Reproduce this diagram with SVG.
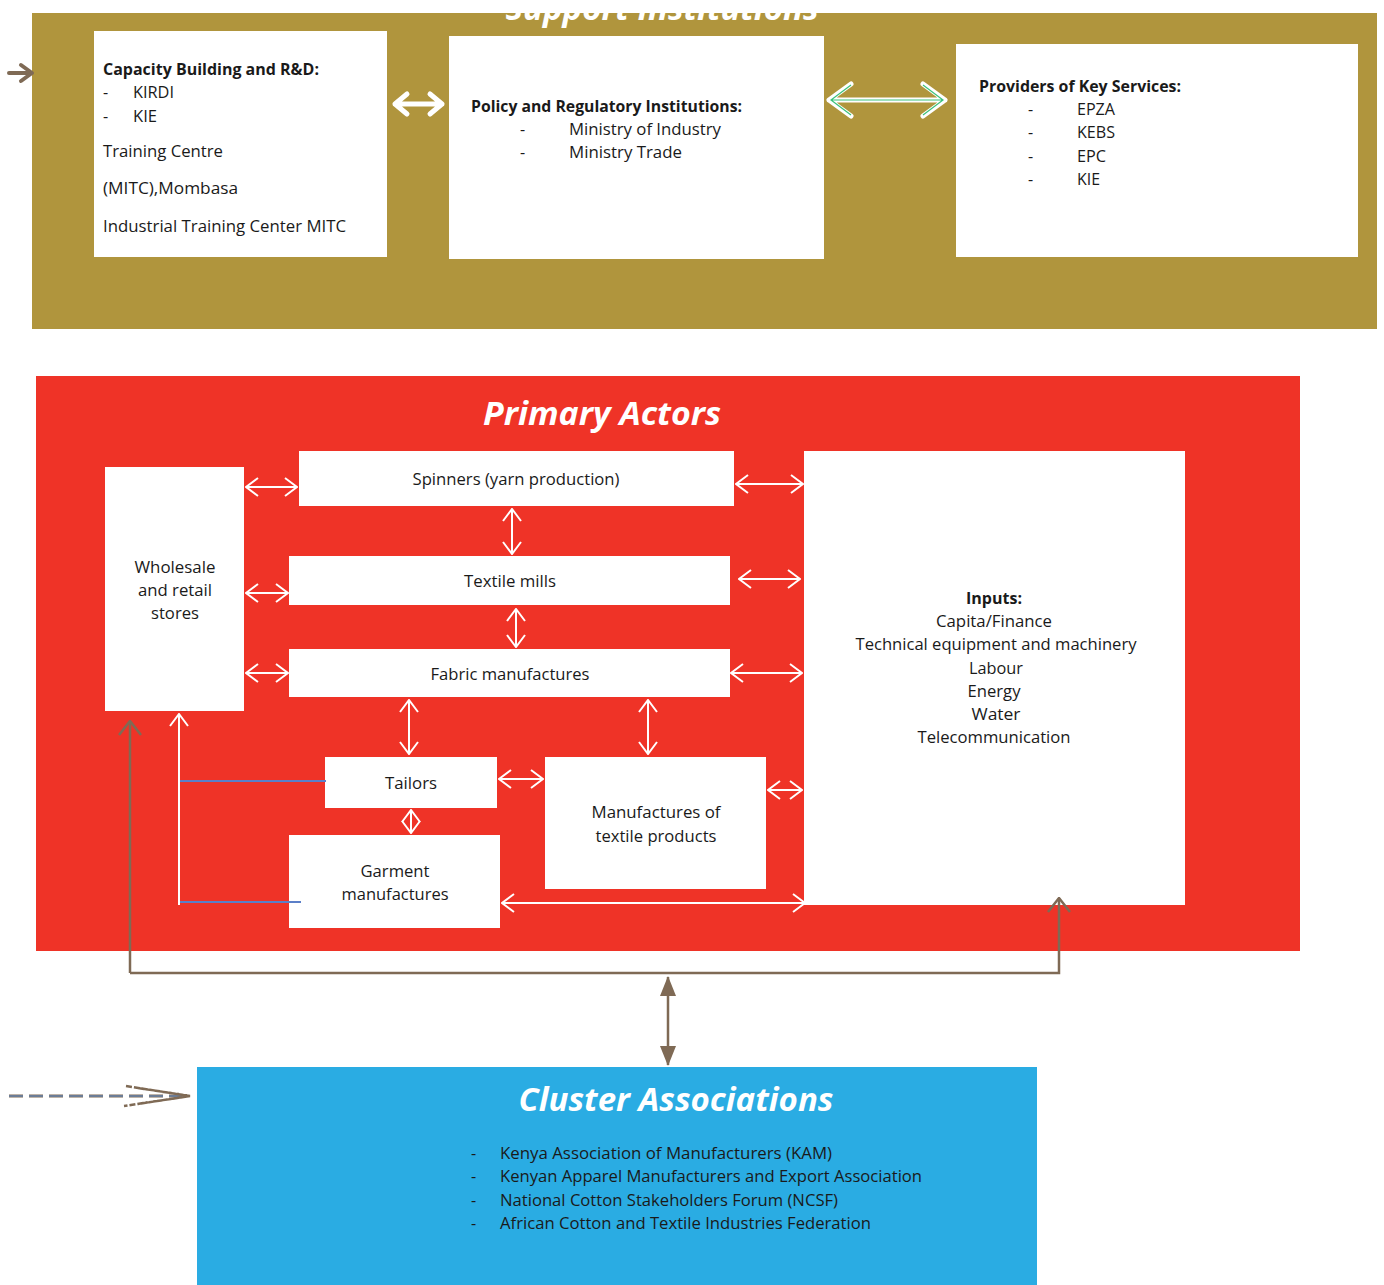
<svg xmlns="http://www.w3.org/2000/svg" width="1384" height="1285" viewBox="0 0 1384 1285">
  <defs>
    <style>
      text { font-family: "Open Sans", "Liberation Sans", sans-serif; fill: #1a1a1a; font-size: 16px; }
      .b { font-weight: bold; }
      .c { text-anchor: middle; }
      .title { font-family: "Open Sans", "Liberation Sans", sans-serif; font-weight: bold; font-style: italic; fill: #ffffff; font-size: 32px; text-anchor: middle; }
      .box { fill: #ffffff; }
      .wa { stroke: #ffffff; stroke-width: 2; fill: none; }
      .brown { stroke: #7f6a55; stroke-width: 2.5; fill: none; }
      .blue { stroke: #5b7fc8; stroke-width: 2; fill: none; }
    </style>
    <marker id="wh" viewBox="0 0 14 20" refX="13" refY="10" markerWidth="14" markerHeight="20" markerUnits="userSpaceOnUse" orient="auto-start-reverse">
      <path d="M1,1 L13,10 L1,19" fill="none" stroke="#ffffff" stroke-width="2"/>
    </marker>
    <marker id="bh" viewBox="0 0 16 24" refX="15" refY="12" markerWidth="16" markerHeight="24" markerUnits="userSpaceOnUse" orient="auto-start-reverse">
      <path d="M1,1 L15,12 L1,23" fill="none" stroke="#7f6a55" stroke-width="2.5"/>
    </marker>
    <marker id="bt" viewBox="0 0 20 16" refX="19" refY="8" markerWidth="20" markerHeight="16" markerUnits="userSpaceOnUse" orient="auto-start-reverse">
      <path d="M0,0 L20,8 L0,16 Z" fill="#7f6a55"/>
    </marker>
  </defs>

  <!-- Support institutions band -->
  <rect x="32" y="13" width="1345" height="316" fill="#b0953d"/>
  <text class="title" x="662" y="20" textLength="313" lengthAdjust="spacingAndGlyphs">Support Institutions</text>

  <g id="capacity-building">
    <rect class="box" x="94" y="31" width="293" height="226"/>
    <text class="b" x="103" y="75" textLength="216" lengthAdjust="spacingAndGlyphs">Capacity Building and R&amp;D:</text>
    <text x="103" y="98">-</text>
    <text x="133" y="98" textLength="41" lengthAdjust="spacingAndGlyphs">KIRDI</text>
    <text x="103" y="122">-</text>
    <text x="133" y="122" textLength="24" lengthAdjust="spacingAndGlyphs">KIE</text>
    <text x="103" y="157" textLength="120" lengthAdjust="spacingAndGlyphs">Training Centre</text>
    <text x="103" y="194" textLength="135" lengthAdjust="spacingAndGlyphs">(MITC),Mombasa</text>
    <text x="103" y="232" textLength="243" lengthAdjust="spacingAndGlyphs">Industrial Training Center MITC</text>
  </g>

  <g id="policy-regulatory">
    <rect class="box" x="449" y="36" width="375" height="223"/>
    <text class="b" x="471" y="112" textLength="271" lengthAdjust="spacingAndGlyphs">Policy and Regulatory Institutions:</text>
    <text x="520" y="135">-</text>
    <text x="569" y="135" textLength="152" lengthAdjust="spacingAndGlyphs">Ministry of Industry</text>
    <text x="520" y="158">-</text>
    <text x="569" y="158" textLength="113" lengthAdjust="spacingAndGlyphs">Ministry Trade</text>
  </g>

  <g id="key-services">
    <rect class="box" x="956" y="44" width="402" height="213"/>
    <text class="b" x="979" y="92" textLength="202" lengthAdjust="spacingAndGlyphs">Providers of Key Services:</text>
    <text x="1028" y="115">-</text>
    <text x="1077" y="115" textLength="38" lengthAdjust="spacingAndGlyphs">EPZA</text>
    <text x="1028" y="138">-</text>
    <text x="1077" y="138" textLength="38" lengthAdjust="spacingAndGlyphs">KEBS</text>
    <text x="1028" y="162">-</text>
    <text x="1077" y="162" textLength="29" lengthAdjust="spacingAndGlyphs">EPC</text>
    <text x="1028" y="185">-</text>
    <text x="1077" y="185" textLength="23" lengthAdjust="spacingAndGlyphs">KIE</text>
  </g>

  <!-- Primary actors panel -->
  <rect x="36" y="376" width="1264" height="575" fill="#ef3327"/>
  <text class="title" x="602" y="425" textLength="238" lengthAdjust="spacingAndGlyphs">Primary Actors</text>

  <g id="wholesale">
    <rect class="box" x="105" y="467" width="139" height="244"/>
    <text class="c" x="175" y="573" textLength="81" lengthAdjust="spacingAndGlyphs">Wholesale</text>
    <text class="c" x="175" y="596" textLength="74" lengthAdjust="spacingAndGlyphs">and retail</text>
    <text class="c" x="175" y="619" textLength="48" lengthAdjust="spacingAndGlyphs">stores</text>
  </g>

  <g id="spinners">
    <rect class="box" x="299" y="451" width="435" height="55"/>
    <text class="c" x="516" y="485" textLength="207" lengthAdjust="spacingAndGlyphs">Spinners (yarn production)</text>
  </g>

  <g id="textile-mills">
    <rect class="box" x="289" y="556" width="441" height="49"/>
    <text class="c" x="510" y="587" textLength="92" lengthAdjust="spacingAndGlyphs">Textile mills</text>
  </g>

  <g id="fabric">
    <rect class="box" x="289" y="649" width="441" height="48"/>
    <text class="c" x="510" y="680" textLength="159" lengthAdjust="spacingAndGlyphs">Fabric manufactures</text>
  </g>

  <g id="tailors">
    <rect class="box" x="325" y="757" width="172" height="51"/>
    <text class="c" x="411" y="789" textLength="52" lengthAdjust="spacingAndGlyphs">Tailors</text>
  </g>

  <g id="garment">
    <rect class="box" x="289" y="835" width="211" height="93"/>
    <text class="c" x="395" y="877" textLength="69" lengthAdjust="spacingAndGlyphs">Garment</text>
    <text class="c" x="395" y="900" textLength="107" lengthAdjust="spacingAndGlyphs">manufactures</text>
  </g>

  <g id="textile-products">
    <rect class="box" x="545" y="757" width="221" height="132"/>
    <text class="c" x="656" y="818" textLength="129" lengthAdjust="spacingAndGlyphs">Manufactures of</text>
    <text class="c" x="656" y="842" textLength="121" lengthAdjust="spacingAndGlyphs">textile products</text>
  </g>

  <g id="inputs">
    <rect class="box" x="804" y="451" width="381" height="454"/>
    <text class="c b" x="994" y="604" textLength="56" lengthAdjust="spacingAndGlyphs">Inputs:</text>
    <text class="c" x="994" y="627" textLength="116" lengthAdjust="spacingAndGlyphs">Capita/Finance</text>
    <text class="c" x="996" y="650" textLength="281" lengthAdjust="spacingAndGlyphs">Technical equipment and machinery</text>
    <text class="c" x="996" y="674" textLength="54" lengthAdjust="spacingAndGlyphs">Labour</text>
    <text class="c" x="994" y="697" textLength="53" lengthAdjust="spacingAndGlyphs">Energy</text>
    <text class="c" x="996" y="720" textLength="49" lengthAdjust="spacingAndGlyphs">Water</text>
    <text class="c" x="994" y="743" textLength="153" lengthAdjust="spacingAndGlyphs">Telecommunication</text>
  </g>

  <!-- Cluster associations panel -->
  <g id="cluster-associations">
    <rect x="197" y="1067" width="840" height="218" fill="#2aace3"/>
    <text class="title" x="676" y="1111" textLength="315" lengthAdjust="spacingAndGlyphs">Cluster Associations</text>
    <text x="471" y="1159">-</text>
    <text x="500" y="1159" textLength="332" lengthAdjust="spacingAndGlyphs">Kenya Association of Manufacturers (KAM)</text>
    <text x="471" y="1182">-</text>
    <text x="500" y="1182" textLength="422" lengthAdjust="spacingAndGlyphs">Kenyan Apparel Manufacturers and Export Association</text>
    <text x="471" y="1206">-</text>
    <text x="500" y="1206" textLength="338" lengthAdjust="spacingAndGlyphs">National Cotton Stakeholders Forum (NCSF)</text>
    <text x="471" y="1229">-</text>
    <text x="500" y="1229" textLength="371" lengthAdjust="spacingAndGlyphs">African Cotton and Textile Industries Federation</text>
  </g>

  <g id="connectors">
    <!-- top band links -->
    <g stroke="#ffffff" stroke-width="5" stroke-linecap="round" stroke-linejoin="round" fill="none">
      <path d="M395,104 H442 M407,94 L395,104 L407,114 M430,94 L442,104 L430,114"/>
      <path d="M829,100 H945 M851,84 L829,100 L851,116 M923,84 L945,100 L923,116"/>
    </g>
    <g stroke="#3cc27a" stroke-width="1.2" fill="none">
      <path d="M832,100 H942 M851,85 L831,100 L851,115 M923,85 L943,100 L923,115"/>
    </g>
    <path d="M9,73 H31 M21,65 L32,73 L21,81" stroke="#7f6a55" stroke-width="4" stroke-linecap="round" stroke-linejoin="round" fill="none"/>

    <!-- links between primary actors -->
    <path class="wa" d="M246,487 H297" marker-start="url(#wh)" marker-end="url(#wh)"/>
    <path class="wa" d="M246,593 H288" marker-start="url(#wh)" marker-end="url(#wh)"/>
    <path class="wa" d="M246,673 H288" marker-start="url(#wh)" marker-end="url(#wh)"/>
    <path class="wa" d="M736,484 H803" marker-start="url(#wh)" marker-end="url(#wh)"/>
    <path class="wa" d="M739,579 H800" marker-start="url(#wh)" marker-end="url(#wh)"/>
    <path class="wa" d="M731,673 H802" marker-start="url(#wh)" marker-end="url(#wh)"/>
    <path class="wa" d="M512,509 V554" marker-start="url(#wh)" marker-end="url(#wh)"/>
    <path class="wa" d="M516,609 V647" marker-start="url(#wh)" marker-end="url(#wh)"/>
    <path class="wa" d="M409,700 V754" marker-start="url(#wh)" marker-end="url(#wh)"/>
    <path class="wa" d="M648,700 V754" marker-start="url(#wh)" marker-end="url(#wh)"/>
    <path class="wa" d="M499,779 H543" marker-start="url(#wh)" marker-end="url(#wh)"/>
    <path class="wa" d="M411,810 V833" marker-start="url(#wh)" marker-end="url(#wh)"/>
    <path class="wa" d="M768,790 H802" marker-start="url(#wh)" marker-end="url(#wh)"/>
    <path class="wa" d="M502,903 H805" marker-start="url(#wh)" marker-end="url(#wh)"/>

    <!-- tailors and garment feed into wholesale -->
    <path class="wa" d="M179,905 V714" marker-end="url(#wh)"/>
    <path class="blue" d="M180,781 H326 M180,902 H301"/>

    <!-- cluster associations loop -->
    <path class="brown" d="M130,973 V721" marker-end="url(#bh)"/>
    <path class="brown" d="M130,973 H1059 V898" marker-end="url(#bh)"/>
    <path class="brown" d="M668,977 V1065" stroke-width="3" marker-start="url(#bt)" marker-end="url(#bt)"/>

    <!-- dashed lead-in to cluster associations -->
    <path d="M9,1096 H182" stroke="#7f6a55" stroke-width="3" stroke-dasharray="14 6" fill="none"/>
    <path d="M9,1096 H186" stroke="#5b8fd8" stroke-width="1" stroke-dasharray="14 6" fill="none"/>
    <path d="M126,1086 L190,1096 L124,1106 M138,1088 L190,1096 L138,1104" stroke="#7f6a55" stroke-width="2.5" stroke-dasharray="6 2" fill="none"/>
  </g>
</svg>
